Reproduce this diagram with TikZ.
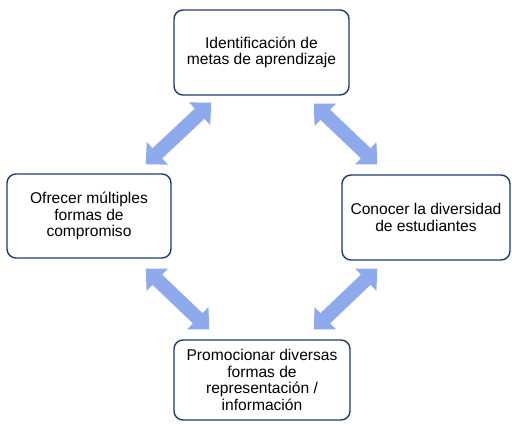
\documentclass[tikz,border=0pt]{standalone}
\usepackage{fontspec}
\setmainfont{Liberation Sans}
\usetikzlibrary{arrows.meta}
\usepackage{xcolor}
\definecolor{BoxNavy}{HTML}{1F3A6E}
\definecolor{ArrowBlue}{HTML}{8EA9EC}
\tikzset{
    % Box styles - rounded corners
    stage/.style={
        rectangle,
        rounded corners=9pt,
        draw=BoxNavy,
        fill=white,
        line width=1.4pt,
        align=center,
        font=\fontsize{15.6}{16.6}\selectfont
    },
    % Arrow styles - block arrows with two heads
    cyclearrow/.style={
        {Triangle[width=30pt,length=16pt]}-{Triangle[width=30pt,length=16pt]},
        line width=14pt,
        draw=ArrowBlue
    }
}

\begin{document}
\begin{tikzpicture}[x=1pt, y=1pt]
    \useasboundingbox (0,0) rectangle (512,424);

    \node[stage, minimum width=175pt, minimum height=85pt] (metas) at (261.5,371.5)
        {Identificación de\\metas de aprendizaje};
    \node[stage, minimum width=164pt, minimum height=84pt] (compromiso) at (89,208)
        {Ofrecer múltiples\\formas de\\compromiso};
    \node[stage, minimum width=168pt, minimum height=85pt] (diversidad) at (426,206.5)
        {Conocer la diversidad\\de estudiantes};
    \node[stage, minimum width=176pt, minimum height=80pt] (representacion) at (262,44)
        {Promocionar diversas\\formas de\\representación /\\información};

    \draw[cyclearrow] ([xshift=-26pt, yshift=9pt]compromiso.north east) -- ([xshift=38pt, yshift=-7pt]metas.south west);
    \draw[cyclearrow] ([xshift=-36pt, yshift=-8pt]metas.south east) -- ([xshift=36pt, yshift=10pt]diversidad.north west);
    \draw[cyclearrow] ([xshift=36pt, yshift=-8pt]diversidad.south west) -- ([xshift=-37pt, yshift=10pt]representacion.north east);
    \draw[cyclearrow] ([xshift=36pt, yshift=10pt]representacion.north west) -- ([xshift=-26pt, yshift=-10pt]compromiso.south east);
\end{tikzpicture}
\end{document}
